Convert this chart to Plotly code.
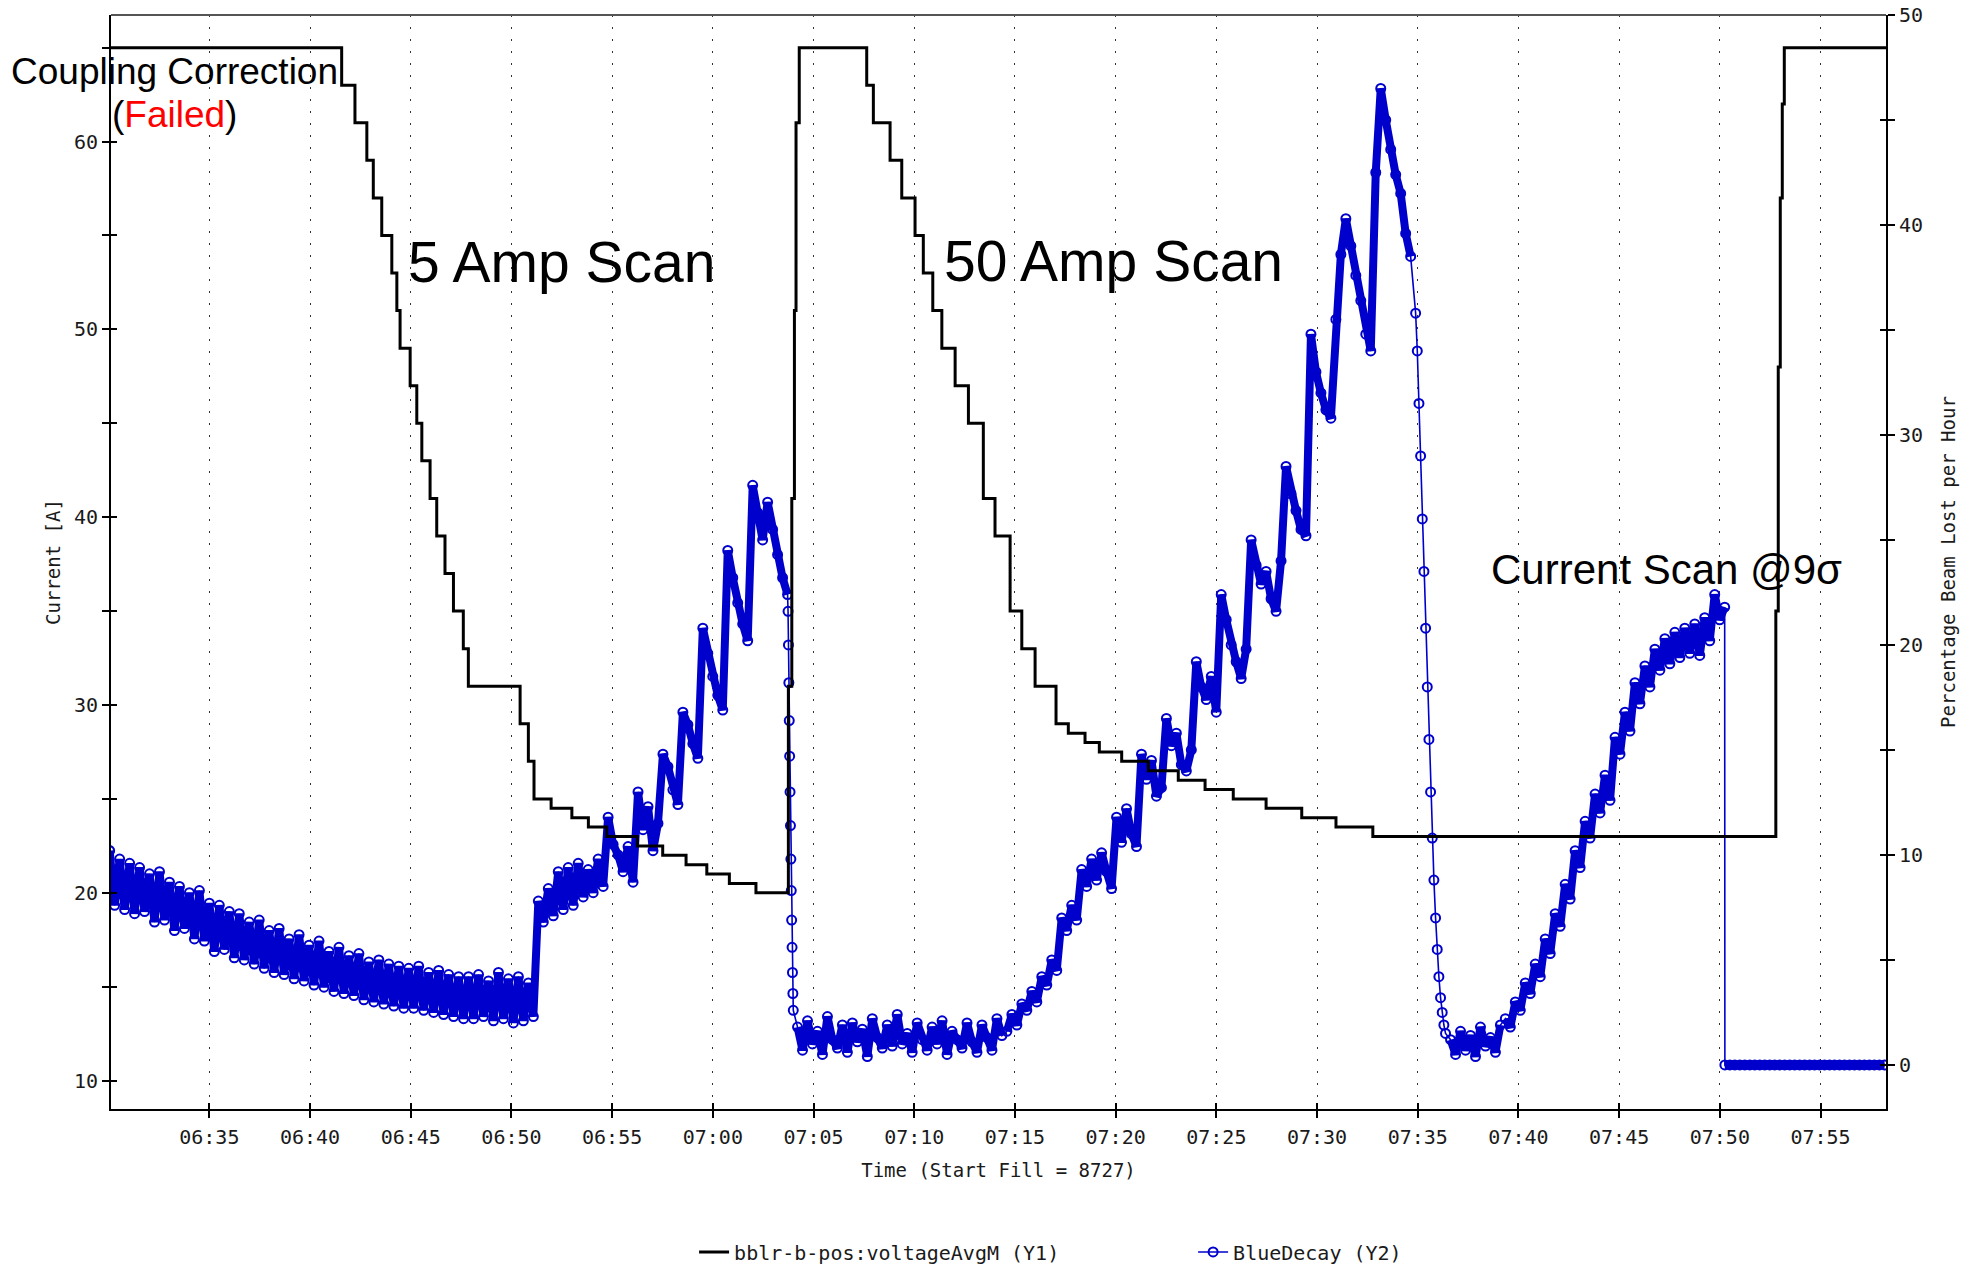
import pandas as pd
import plotly.graph_objects as go

BASE = pd.Timestamp("2009-03-05 06:30:00")

# ---------------- Black step series (Y1, current in A) ----------------
# change times in minutes after 06:30 and the level held from that time on
current_change_min = [0.0, 11.57, 12.23, 12.82, 13.14, 13.56, 14.06, 14.31, 14.47, 14.97,
                      15.30, 15.55, 15.96, 16.29, 16.70, 17.12, 17.61, 17.86, 20.43, 20.84,
                      21.12, 21.97, 23.00, 23.82, 24.73, 26.25, 27.51, 28.67, 29.70, 30.82,
                      32.14, 33.75, 33.92, 34.05, 34.13, 34.29, 37.64, 37.97, 38.80, 39.38,
                      40.04, 40.45, 40.92, 41.37, 42.03, 42.69, 43.43, 44.01, 44.76, 45.34,
                      46.00, 47.04, 47.65, 48.48, 49.19, 50.30, 51.62, 53.11, 54.44, 55.84,
                      57.47, 59.24, 60.94, 62.77, 82.78, 82.90, 83.00, 83.10, 83.20, 88.50]
current_level_A = [65, 63, 61, 59, 57, 55, 53, 51, 49, 47,
                   45, 43, 41, 39, 37, 35, 33, 31, 29, 27,
                   25, 24.5, 24, 23.5, 23, 22.5, 22, 21.5, 21, 20.5,
                   20, 31, 41, 51, 61, 65, 63, 61, 59, 57,
                   55, 53, 51, 49, 47, 45, 41, 39, 35, 33,
                   31, 29, 28.5, 28, 27.5, 27, 26.5, 26, 25.5, 25,
                   24.5, 24, 23.5, 23, 35, 48, 57, 62, 65, 65]

# ---------------- Blue series (Y2, % beam lost per hour) ----------------
# each segment: start (s after 06:30:00), sample step (s), values
blue_a_start, blue_a_step = 3.0, 14.85
blue_a = [10.2, 7.6, 9.8, 7.4, 9.6, 7.2, 9.4, 7.3, 9.1, 6.8, 9.2, 6.9, 8.7, 6.4, 8.5, 6.5,
          8.2, 6.0, 8.3, 5.9, 7.7, 5.4, 7.6, 5.5, 7.3, 5.1, 7.2, 5.0, 6.8, 4.8, 6.9, 4.6,
          6.4, 4.4, 6.5, 4.3, 6.0, 4.1, 6.2, 4.0, 5.7, 3.8, 5.9, 3.7, 5.4, 3.5, 5.6, 3.4,
          5.2, 3.3, 5.3, 3.1, 4.9, 3.0, 5.0, 2.9, 4.8, 2.8, 4.7, 2.7, 4.6, 2.7, 4.7, 2.6,
          4.4, 2.5, 4.5, 2.4, 4.3, 2.3, 4.2, 2.2, 4.2, 2.2, 4.3, 2.3, 4.0, 2.1, 4.4, 2.2,
          4.1, 2.0, 4.2, 2.1, 3.9, 2.3, 7.8, 6.8, 8.4, 7.1, 9.2, 7.4, 9.4, 7.6, 9.6, 8.0,
          9.3, 8.2, 9.8, 8.5, 11.8, 10.5, 10.0, 9.2, 10.4, 8.7, 13.0, 11.2, 12.3, 10.2, 11.5, 14.8,
          14.2, 13.1, 12.4, 16.8, 16.2, 15.3, 14.6, 20.8, 19.6, 18.5, 17.6, 16.9,
          24.5, 23.2, 22.0, 21.0, 20.2, 27.6, 26.3, 25.0, 26.8, 25.5, 24.3, 23.2, 22.4]
blue_drop1_start, blue_drop1_step = 2024.0, 1.2
blue_drop1 = [21.6, 20.0, 18.2, 16.4, 14.7, 13.0, 11.4, 9.8, 8.3, 6.9, 5.6, 4.4, 3.4, 2.6]
blue_d_start, blue_d_step = 2052.3, 14.85
blue_d = [1.8, 0.7, 2.1, 1.0, 1.6, 0.5, 2.3, 1.2, 0.8, 1.9,
          0.6, 2.0, 1.1, 1.7, 0.4, 2.2, 1.3, 0.8, 1.9, 0.9,
          2.4, 1.0, 1.5, 0.6, 2.0, 1.2, 0.7, 1.8, 1.0, 2.1,
          0.5, 1.6, 1.2, 0.8, 2.0, 1.1, 0.6, 1.9, 1.3, 0.7,
          2.2, 1.4]
blue_e_start, blue_e_step = 2676.0, 14.85
blue_e = [1.6, 2.4, 1.9, 2.9, 2.6, 3.5, 3.0, 4.2, 3.8, 5.0, 4.5, 7.0,
          6.4, 7.6, 6.9, 9.3, 8.5, 9.8, 8.8, 10.1, 9.2, 8.4, 11.8, 10.6,
          12.2, 11.0, 10.4, 14.8, 13.6, 14.5, 12.8, 13.2, 16.5, 15.2, 15.8, 14.3,
          14.0, 15.0, 19.2, 18.0, 17.4, 18.5, 16.8, 22.4, 21.2, 20.0, 19.2, 18.4,
          19.8, 25.0, 23.8, 22.9, 23.5, 22.2, 21.6, 24.0, 28.5, 27.2, 26.4, 25.5,
          25.2, 34.8, 33.0, 32.0, 31.2, 30.8, 35.5, 38.6, 40.3, 39.0, 37.6, 36.4,
          34.8, 34.0, 42.5, 46.5, 45.0, 43.6, 42.4, 41.5, 39.6, 38.5]
blue_drop2_start, blue_drop2_step = 3893.7, 4.95
blue_drop2 = [35.8, 34.0, 31.5, 29.0, 26.0, 23.5, 20.8, 18.0, 15.5, 13.0,
              10.8, 8.8, 7.0, 5.5, 4.2, 3.2, 2.5, 1.9, 1.5]
blue_h_start, blue_h_step = 3997.8, 14.85
blue_h = [1.2, 0.5, 1.6, 0.7, 1.4, 0.4, 1.8, 0.9, 1.3, 0.6, 1.9]
blue_i_start, blue_i_step = 4161.0, 14.85
blue_i = [2.2, 1.8, 3.0, 2.6, 3.9, 3.4, 4.8, 4.2, 6.0, 5.3, 7.2, 6.6,
          8.6, 7.9, 10.2, 9.4, 11.6, 10.8, 12.9, 12.0, 13.8, 12.6, 15.6, 14.8,
          16.8, 15.9, 18.2, 17.2, 19.0, 18.0, 19.8, 18.8, 20.3, 19.1, 20.6, 19.4,
          20.8, 19.6, 21.0, 19.5, 21.3, 20.2, 22.4, 21.2, 21.8]
blue_j_start, blue_j_step = 4815.0, 14.85
blue_j = [0.0, 0.0, 0.0, 0.0, 0.0, 0.0, 0.0, 0.0, 0.0, 0.0, 0.0,
          0.0, 0.0, 0.0, 0.0, 0.0, 0.0, 0.0, 0.0, 0.0, 0.0, 0.0,
          0.0, 0.0, 0.0, 0.0, 0.0, 0.0, 0.0, 0.0, 0.0, 0.0, 0.0]

# (start, step, values, dense-band segment?)
blue_segments = [(blue_a_start, blue_a_step, blue_a, True), (blue_drop1_start, blue_drop1_step, blue_drop1, False),
                 (blue_d_start, blue_d_step, blue_d, True), (blue_e_start, blue_e_step, blue_e, True),
                 (blue_drop2_start, blue_drop2_step, blue_drop2, False), (blue_h_start, blue_h_step, blue_h, True),
                 (blue_i_start, blue_i_step, blue_i, True), (blue_j_start, blue_j_step, blue_j, True)]

blue_x, blue_y = [], []
band_x, band_y = [], []
for start, step, vals, dense in blue_segments:
    seg_x = [BASE + pd.Timedelta(seconds=start + i * step) for i in range(len(vals))]
    blue_x += seg_x
    blue_y += vals
    if dense:
        band_x += seg_x + [None]
        band_y += vals + [None]

cur_x = [BASE + pd.Timedelta(minutes=m) for m in current_change_min]

# axis settings
x_range = [BASE + pd.Timedelta(seconds=7), BASE + pd.Timedelta(minutes=88.25)]
y1_range = [8.49, 66.74]
y2_range = [-2.1, 50]
y1_ticks = [10, 15, 20, 25, 30, 35, 40, 45, 50, 55, 60, 65]
y2_ticks = [0, 5, 10, 15, 20, 25, 30, 35, 40, 45, 50]

BLUE = "#0000CC"
MONO = "DejaVu Sans Mono"
SANS = "Liberation Sans, Arial"

fig = go.Figure()
# heavy under-stroke: the densely sampled record renders as a solid band
fig.add_trace(go.Scatter(x=band_x, y=band_y, mode="lines", xaxis="x", yaxis="y",
                         line=dict(color=BLUE, width=8), connectgaps=False,
                         showlegend=False, hoverinfo="skip"))
fig.add_trace(go.Scatter(x=blue_x, y=blue_y, mode="lines+markers", name="BlueDecay (Y2)",
                         xaxis="x", yaxis="y", legendrank=2,
                         line=dict(color=BLUE, width=1.6),
                         marker=dict(symbol="circle-open", size=9, color=BLUE, line=dict(width=2))))
fig.add_trace(go.Scatter(x=cur_x, y=current_level_A, mode="lines", line_shape="hv",
                         name="bblr-b-pos:voltageAvgM (Y1)", xaxis="x", yaxis="y2", legendrank=1,
                         line=dict(color="black", width=3)))
# invisible helpers so that the overlay axes (inner tick marks) get drawn
for xa, ya, yv in [("x", "y3", blue_y[0]), ("x", "y4", current_level_A[0]), ("x2", "y", blue_y[0])]:
    fig.add_trace(go.Scatter(x=[blue_x[0]], y=[yv], xaxis=xa, yaxis=ya, mode="markers",
                             marker=dict(opacity=0), showlegend=False, hoverinfo="skip"))

tickfont = dict(family=MONO, size=20, color="#1a1a1a")
common_x = dict(type="date", range=x_range, tickmode="linear", tick0=BASE, dtick=300000,
                tickformat="%H:%M", zeroline=False)

fig.update_layout(
    width=1971, height=1278,
    margin=dict(l=111, r=85, t=15, b=169, autoexpand=False),
    plot_bgcolor="white", paper_bgcolor="white",
    font=dict(family=MONO, size=20, color="#1a1a1a"),
    xaxis=dict(**common_x, showgrid=True, gridcolor="#333", gridwidth=1.2, griddash="2px,10px",
               showline=True, linecolor="black", linewidth=2,
               ticks="outside", ticklen=7, tickwidth=2, tickcolor="black", tickfont=tickfont,
               ticklabelstandoff=2,
               title=dict(text="Time (Start Fill = 8727)", font=dict(family=MONO, size=19), standoff=16)),
    xaxis2=dict(**common_x, overlaying="x", anchor="y", showgrid=False, showline=False,
                ticks="inside", ticklen=6, tickwidth=2, tickcolor="black", showticklabels=False),
    yaxis=dict(side="right", range=y2_range, tickmode="array", tickvals=y2_ticks,
               ticktext=[str(v) if v % 10 == 0 else "" for v in y2_ticks],
               showgrid=False, zeroline=False, showline=True, linecolor="black", linewidth=2,
               ticks="outside", ticklen=7, tickwidth=2, tickcolor="black", tickfont=tickfont,
               ticklabeloverflow="allow",
               title=dict(text="Percentage Beam Lost per Hour", font=dict(family=MONO, size=19), standoff=20)),
    yaxis2=dict(overlaying="y", side="left", range=y1_range, tickmode="array", tickvals=y1_ticks,
                ticktext=[str(v) if v % 10 == 0 else "" for v in y1_ticks],
                showgrid=False, zeroline=False, showline=True, linecolor="black", linewidth=2,
                ticks="outside", ticklen=7, tickwidth=2, tickcolor="black", tickfont=tickfont,
                ticklabeloverflow="allow",
                title=dict(text="Current [A]", font=dict(family=MONO, size=19), standoff=8)),
    yaxis3=dict(overlaying="y", side="right", range=y2_range, tickmode="array", tickvals=y2_ticks,
                showticklabels=False, showgrid=False, zeroline=False, showline=False,
                ticks="inside", ticklen=6, tickwidth=2, tickcolor="black"),
    yaxis4=dict(overlaying="y", side="left", range=y1_range, tickmode="array", tickvals=y1_ticks,
                showticklabels=False, showgrid=False, zeroline=False, showline=False,
                ticks="inside", ticklen=6, tickwidth=2, tickcolor="black"),
    legend=dict(orientation="h", x=0.3285, y=-0.1307, xanchor="left", yanchor="middle",
                font=dict(family=MONO, size=20, color="#1a1a1a"), bgcolor="rgba(0,0,0,0)",
                entrywidth=454, traceorder="normal"),
    showlegend=True,
)

# top frame line
fig.add_shape(type="line", xref="paper", yref="paper", x0=0, x1=1, y0=1, y1=1,
              line=dict(color="#555", width=2))

ann_font = dict(family=SANS, color="black")
fig.add_annotation(text="Coupling Correction", xref="paper", yref="paper", x=0.036, y=0.948,
                   xanchor="center", yanchor="middle", showarrow=False, font=dict(**ann_font, size=37))
fig.add_annotation(text="(<span style='color:#FF0000'>Failed</span>)", xref="paper", yref="paper",
                   x=0.0355, y=0.9095, xanchor="center", yanchor="middle", showarrow=False,
                   font=dict(**ann_font, size=37))
fig.add_annotation(text="5 Amp Scan", xref="paper", yref="paper", x=0.1662, y=0.7743,
                   xanchor="left", yanchor="middle", showarrow=False, font=dict(**ann_font, size=57))
fig.add_annotation(text="50 Amp Scan", xref="paper", yref="paper", x=0.468, y=0.7751,
                   xanchor="left", yanchor="middle", showarrow=False, font=dict(**ann_font, size=57))
fig.add_annotation(text="Current Scan @9σ", xref="paper", yref="paper", x=0.7763, y=0.4927,
                   xanchor="left", yanchor="middle", showarrow=False, font=dict(**ann_font, size=42))

# remove the browser's default 8 px page margin so the figure fills the window exactly
fig.write_html("out.html", config={"displayModeBar": False},
               post_script="document.body.style.margin='0';")
